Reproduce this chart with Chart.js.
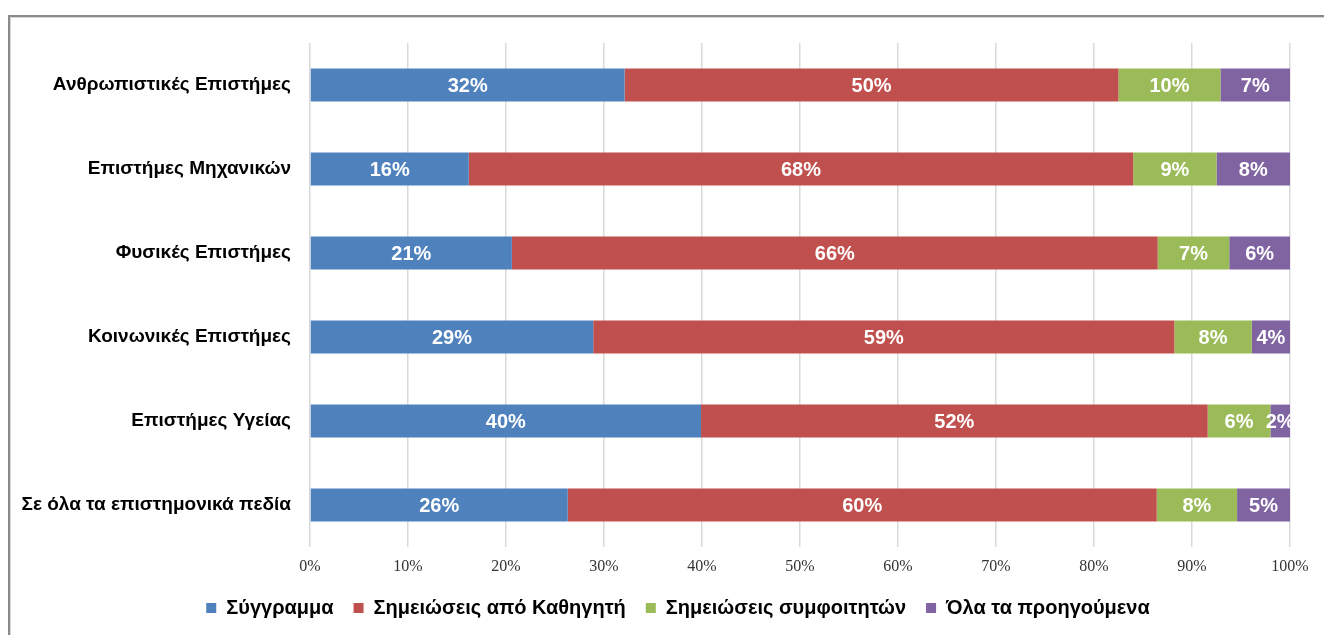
<!DOCTYPE html>
<html>
<head>
<meta charset="utf-8">
<script src="https://cdn.jsdelivr.net/npm/chart.js@4.4.1/dist/chart.umd.min.js"></script>
<style>
  html, body { margin: 0; padding: 0; background: #fff; }
  #wrap { position: relative; width: 1324px; height: 635px; overflow: hidden; }
  #frame { position: absolute; left: 8px; top: 15px; width: 1400px; height: 700px;
           border-top: 2px solid #8a8a8a; border-left: 2px solid #8a8a8a;
           box-shadow: inset 1px 1px 0 #d8d8d8; }
  canvas { position: absolute; left: 0; top: 0; }
</style>
</head>
<body>
<div id="wrap">
  <div id="frame"></div>
  <canvas id="c" width="1324" height="635"></canvas>
</div>
<script>
const categories = [
  "Ανθρωπιστικές Επιστήμες",
  "Επιστήμες Μηχανικών",
  "Φυσικές Επιστήμες",
  "Κοινωνικές Επιστήμες",
  "Επιστήμες Υγείας",
  "Σε όλα τα επιστημονικά πεδία"
];
const seriesNames = ["Σύγγραμμα", "Σημειώσεις από Καθηγητή", "Σημειώσεις συμφοιτητών", "Όλα τα προηγούμενα"];
const syggramma   = [32.1, 16.2, 20.6, 28.9, 39.9, 26.3];
const kathigitis  = [50.4, 67.8, 65.9, 59.3, 51.7, 60.1];
const symfoitites = [10.4,  8.5,  7.3,  7.9,  6.4,  8.2];
const ola         = [ 7.1,  7.5,  6.2,  3.9,  2.0,  5.4];
const tickLabels = ["0%","10%","20%","30%","40%","50%","60%","70%","80%","90%","100%"];
const colors = ["#4f81bd", "#c0504d", "#9bbb59", "#8064a2"];
const seriesData = [syggramma, kathigitis, symfoitites, ola];

const labelPlugin = {
  id: 'segLabels',
  afterLayout(chart) {
    const lg = chart.legend;
    if (lg) { lg.left += 33; lg.right += 33; lg.top -= 7; lg.bottom -= 7; }
  },
  afterDatasetsDraw(chart) {
    const ctx = chart.ctx;
    ctx.save();
    ctx.fillStyle = '#ffffff';
    ctx.font = 'bold 20px "Liberation Sans", Arial, sans-serif';
    ctx.textAlign = 'center';
    ctx.textBaseline = 'middle';
    chart.data.datasets.forEach((ds, di) => {
      const meta = chart.getDatasetMeta(di);
      meta.data.forEach((el, i) => {
        const v = ds.data[i];
        const cx = (el.x + el.base) / 2;
        ctx.fillText(Math.round(v) + '%', cx, el.y + 1);
      });
    });
    ctx.restore();
  }
};

new Chart(document.getElementById('c'), {
  type: 'bar',
  data: {
    labels: categories,
    datasets: seriesData.map((d, i) => ({
      label: seriesNames[i],
      data: d,
      backgroundColor: colors[i],
      borderWidth: 0,
      categoryPercentage: 1.0,
      barPercentage: 0.39
    }))
  },
  options: {
    indexAxis: 'y',
    responsive: false,
    animation: false,
    devicePixelRatio: 1,
    layout: { padding: { left: 0, right: 34, top: 43, bottom: 0 } },
    plugins: {
      legend: {
        position: 'bottom',
        labels: {
          boxWidth: 10, boxHeight: 10, padding: 20,
          color: '#000',
          font: { family: '"Liberation Sans", Arial, sans-serif', size: 20, weight: 'bold' }
        }
      },
      tooltip: { enabled: false }
    },
    scales: {
      x: {
        stacked: true, min: 0, max: 100,
        border: { display: false },
        grid: { color: '#d9d9d9', lineWidth: 1.5, drawTicks: false },
        ticks: {
          stepSize: 10, padding: 10, color: '#333',
          font: { family: '"Liberation Serif", "Times New Roman", serif', size: 16 },
          callback: (v, i) => tickLabels[i]
        },
        afterFit(s) { s.height = 38; }
      },
      y: {
        stacked: true,
        border: { display: false },
        grid: { display: false, drawTicks: false },
        ticks: {
          padding: 19, color: '#000',
          font: { family: '"Liberation Sans", Arial, sans-serif', size: 19, weight: 'bold' }
        },
        afterFit(s) { s.width = 310; }
      }
    }
  },
  plugins: [labelPlugin]
});
</script>
</body>
</html>
